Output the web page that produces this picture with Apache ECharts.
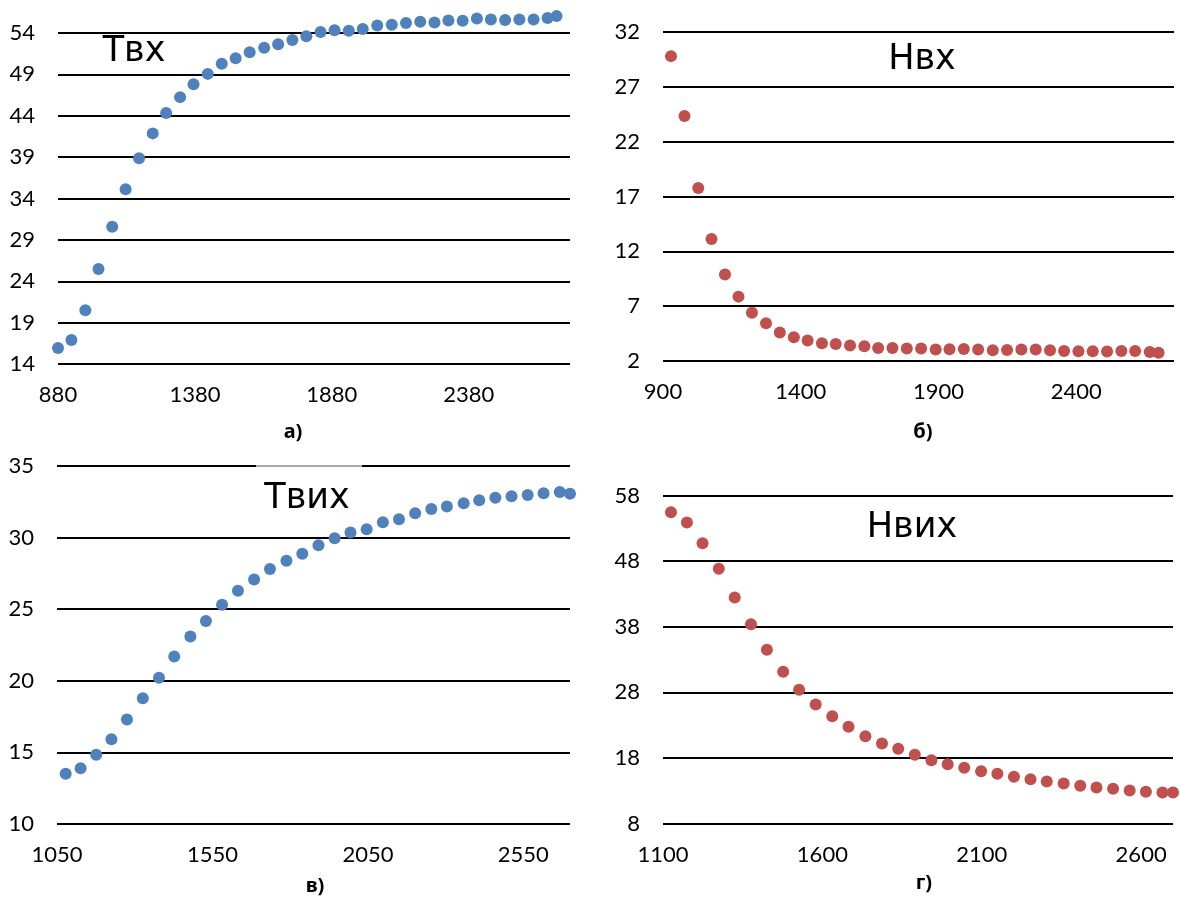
<!DOCTYPE html>
<html>
<head>
<meta charset="utf-8">
<script src="https://cdn.jsdelivr.net/npm/echarts@6/dist/echarts.min.js"></script>
<style>
html,body{margin:0;padding:0;background:#fff;}
#main{width:1180px;height:897px;}
</style>
</head>
<body>
<div id="main"></div>
<script>
// а) Твх
const xA = [880, 929, 980, 1028, 1078, 1127, 1176, 1226, 1275, 1326, 1375, 1427, 1478, 1529, 1580, 1633, 1684, 1736, 1787, 1839, 1890, 1942, 1993, 2046, 2099, 2151, 2203, 2255, 2306, 2358, 2410, 2461, 2513, 2565, 2617, 2668, 2701];
const yA = [15.93, 16.89, 20.5, 25.49, 30.59, 35.12, 38.86, 41.87, 44.32, 46.25, 47.82, 49.06, 50.27, 50.95, 51.67, 52.23, 52.63, 53.16, 53.6, 54.12, 54.32, 54.28, 54.48, 54.92, 55.0, 55.2, 55.36, 55.28, 55.5, 55.48, 55.76, 55.64, 55.56, 55.64, 55.64, 55.8, 56.04];
// б) Нвх
const xB = [929, 978, 1028, 1076, 1125, 1174, 1223, 1274, 1324, 1375, 1425, 1477, 1527, 1579, 1631, 1681, 1733, 1785, 1837, 1890, 1940, 1992, 2044, 2097, 2149, 2201, 2253, 2305, 2356, 2408, 2460, 2512, 2564, 2614, 2667, 2699];
const yB = [29.8, 24.33, 17.77, 13.12, 9.88, 7.87, 6.4, 5.45, 4.6, 4.17, 3.86, 3.62, 3.56, 3.41, 3.34, 3.19, 3.19, 3.13, 3.13, 3.04, 3.07, 3.1, 3.04, 2.98, 3.01, 3.04, 3.04, 2.98, 2.92, 2.89, 2.89, 2.86, 2.92, 2.92, 2.83, 2.76];
// в) Твих
const xC = [1078, 1126, 1176, 1225, 1275, 1326, 1378, 1427, 1479, 1529, 1581, 1632, 1684, 1735, 1788, 1839, 1891, 1943, 1994, 2046, 2098, 2150, 2202, 2254, 2304, 2358, 2408, 2460, 2512, 2564, 2615, 2667, 2700];
const yC = [13.51, 13.9, 14.83, 15.92, 17.3, 18.78, 20.22, 21.69, 23.1, 24.17, 25.31, 26.29, 27.08, 27.8, 28.38, 28.87, 29.47, 29.96, 30.35, 30.59, 31.07, 31.28, 31.7, 32.0, 32.17, 32.4, 32.61, 32.79, 32.89, 32.98, 33.09, 33.19, 33.07];
// г) Нвих
const xD = [1125, 1175, 1224, 1275, 1325, 1376, 1426, 1477, 1527, 1579, 1631, 1682, 1735, 1787, 1838, 1890, 1942, 1993, 2045, 2098, 2149, 2201, 2253, 2304, 2357, 2409, 2460, 2512, 2564, 2615, 2667, 2700];
const yD = [55.46, 53.88, 50.73, 46.82, 42.45, 38.39, 34.47, 31.12, 28.38, 26.14, 24.36, 22.74, 21.31, 20.2, 19.38, 18.47, 17.65, 17.04, 16.49, 15.98, 15.57, 15.11, 14.76, 14.4, 14.1, 13.74, 13.49, 13.28, 13.03, 12.83, 12.73, 12.73];

const titles = ['Твх', 'Нвх', 'Твих', 'Нвих'];
const captions = ['а)', 'б)', 'в)', 'г)'];

const BLUE = '#4F81BD', RED = '#C0504D';
const FONT = 'Lato, "Noto Sans", sans-serif';

const zip = (xs, ys) => xs.map((x, i) => [x, ys[i]]);

const grids = [
  {left: 58, top: 33, width: 512, height: 331},
  {left: 663, top: 32, width: 511, height: 329},
  {left: 57, top: 466, width: 513, height: 358},
  {left: 663, top: 495.5, width: 510, height: 328}
];
const xRanges = [[880, 2750], [900, 2755], [1050, 2700], [1100, 2700]];
const yRanges = [[14, 54, 5], [2, 32, 5], [10, 35, 5], [8, 58, 10]];

const xAxes = xRanges.map((r, i) => ({
  type: 'value', gridIndex: i, min: r[0], max: r[1], interval: 500,
  axisLine: {show: false}, axisTick: {show: false}, splitLine: {show: false},
  axisLabel: {showMaxLabel: false, margin: 20, color: '#000', fontSize: 22, fontFamily: FONT,
              formatter: v => String(v)}
}));
const yAxes = yRanges.map((r, i) => ({
  type: 'value', gridIndex: i, min: r[0], max: r[1], interval: r[2],
  axisLine: {show: false}, axisTick: {show: false},
  splitLine: {show: true, lineStyle: {color: '#000', width: 2}},
  axisLabel: {margin: 23, color: '#000', fontSize: 22, fontFamily: FONT}
}));

const data = [zip(xA, yA), zip(xB, yB), zip(xC, yC), zip(xD, yD)];
const colors = [BLUE, RED, BLUE, RED];
const series = data.map((d, i) => ({
  type: 'scatter', xAxisIndex: i, yAxisIndex: i, data: d,
  symbolSize: 12, clip: false, itemStyle: {color: colors[i], opacity: 1}
}));

const titlePos = [[134, 52], [922, 60], [307, 499], [912, 528]];
const capPos = [[293, 432], [923, 432], [315, 886], [924, 883]];

const graphic = [
  {type: 'rect', z: 50, shape: {x: 256, y: 463, width: 106, height: 6}, style: {fill: '#fff'}},
  {type: 'line', z: 51, shape: {x1: 256, y1: 466, x2: 362, y2: 466}, style: {stroke: '#555', lineWidth: 1}}
];
titles.forEach((t, i) => graphic.push({
  type: 'text', z: 60, x: titlePos[i][0], y: titlePos[i][1],
  style: {text: t, font: '35px "DejaVu Sans", sans-serif', fill: '#000', align: 'center', verticalAlign: 'middle'}
}));
captions.forEach((t, i) => graphic.push({
  type: 'text', z: 60, x: capPos[i][0], y: capPos[i][1],
  style: {text: t, font: 'bold 20px "Noto Sans", sans-serif', fill: '#000', align: 'center', verticalAlign: 'middle'}
}));

const chart = echarts.init(document.getElementById('main'), null, {renderer: 'canvas'});
chart.setOption({
  animation: false,
  backgroundColor: '#fff',
  grid: grids,
  xAxis: xAxes,
  yAxis: yAxes,
  series: series,
  graphic: graphic
});
</script>
</body>
</html>
